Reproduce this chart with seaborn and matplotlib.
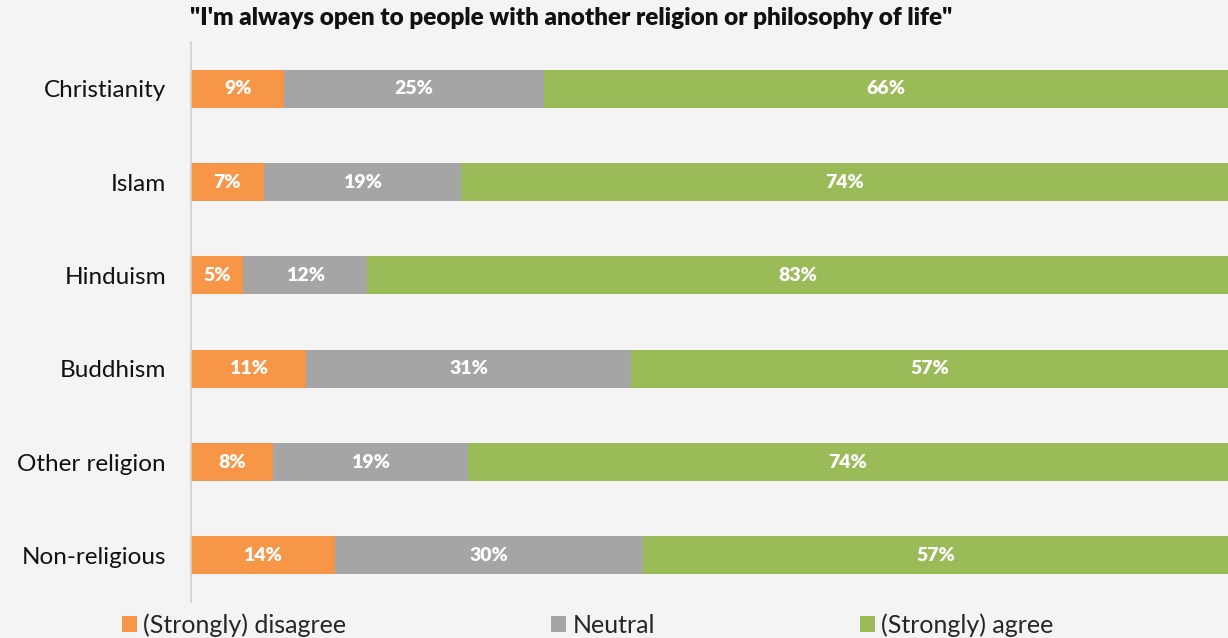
import matplotlib
matplotlib.use("Agg")
import matplotlib.pyplot as plt
import seaborn as sns
import pandas as pd
import numpy as np
from matplotlib.patches import Patch

categories = ["Christianity", "Islam", "Hinduism", "Buddhism", "Other religion", "Non-religious"]
disagree = [9, 7, 5, 11, 8, 14]
neutral = [25, 19, 12, 31, 19, 30]
agree = [66, 74, 83, 57, 74, 57]
series_names = ["(Strongly) disagree", "Neutral", "(Strongly) agree"]
title = "\"I'm always open to people with another religion or philosophy of life\""

colors = ["#F79646", "#A5A5A5", "#9BBB59"]
bg = "#F5F4F4"

sns.set_theme(style="white")
plt.rcParams["font.family"] = ["Lato", "DejaVu Sans"]

df = pd.DataFrame({"cat": categories, "d": disagree, "n": neutral, "a": agree})
# 100% stacked: each row's segments scaled to its total
tot = df["d"] + df["n"] + df["a"]
df["c1"] = df["d"] / tot * 100
df["c2"] = (df["d"] + df["n"]) / tot * 100
df["c3"] = 100.0 * tot / tot

fig = plt.figure(figsize=(12.28, 6.38), dpi=100, facecolor=bg)
ax = fig.add_axes([191/1228, 1-602/638, 1-191/1228, 560/638])
ax.set_facecolor(bg)

for col, c in zip(["c3", "c2", "c1"], colors[::-1]):
    sns.barplot(data=df, x=col, y="cat", order=categories, color=c, width=0.41,
                saturation=1, ax=ax, orient="h", edgecolor="none")

for i, row in df.iterrows():
    segs = [(row["d"], 0, row["c1"]), (row["n"], row["c1"], row["c2"]), (row["a"], row["c2"], row["c3"])]
    for val, lo, hi in segs:
        ax.text((lo + hi) / 2, i, f"{val}%", ha="center", va="center", color="white",
                fontsize=14, fontweight="heavy")

ax.set_xlim(0, 100)
ax.set_ylim(5.5, -0.5)
ax.set_xlabel("")
ax.set_ylabel("")
ax.set_xticks([])
ax.tick_params(axis="y", labelsize=17.5, length=0, pad=18, colors="#111111")
for s in ["top", "right", "bottom"]:
    ax.spines[s].set_visible(False)
ax.spines["left"].set_color("#D0D0D0")
ax.spines["left"].set_linewidth(1.2)

fig.text(190/1228, 1-18/638, title, ha="left", va="center", fontsize=17.5, fontweight="heavy", color="#111111")

handles = [Patch(facecolor=c, edgecolor="none") for c in colors]
fig.legend(handles, series_names, loc="center left", bbox_to_anchor=(122/1228, 1-625/638), ncol=3,
           frameon=False, fontsize=18, handlelength=0.6, handleheight=0.6, handletextpad=0.25,
           columnspacing=8.2, borderaxespad=0, borderpad=0)

fig.savefig("out.png", dpi=100, facecolor=bg)
